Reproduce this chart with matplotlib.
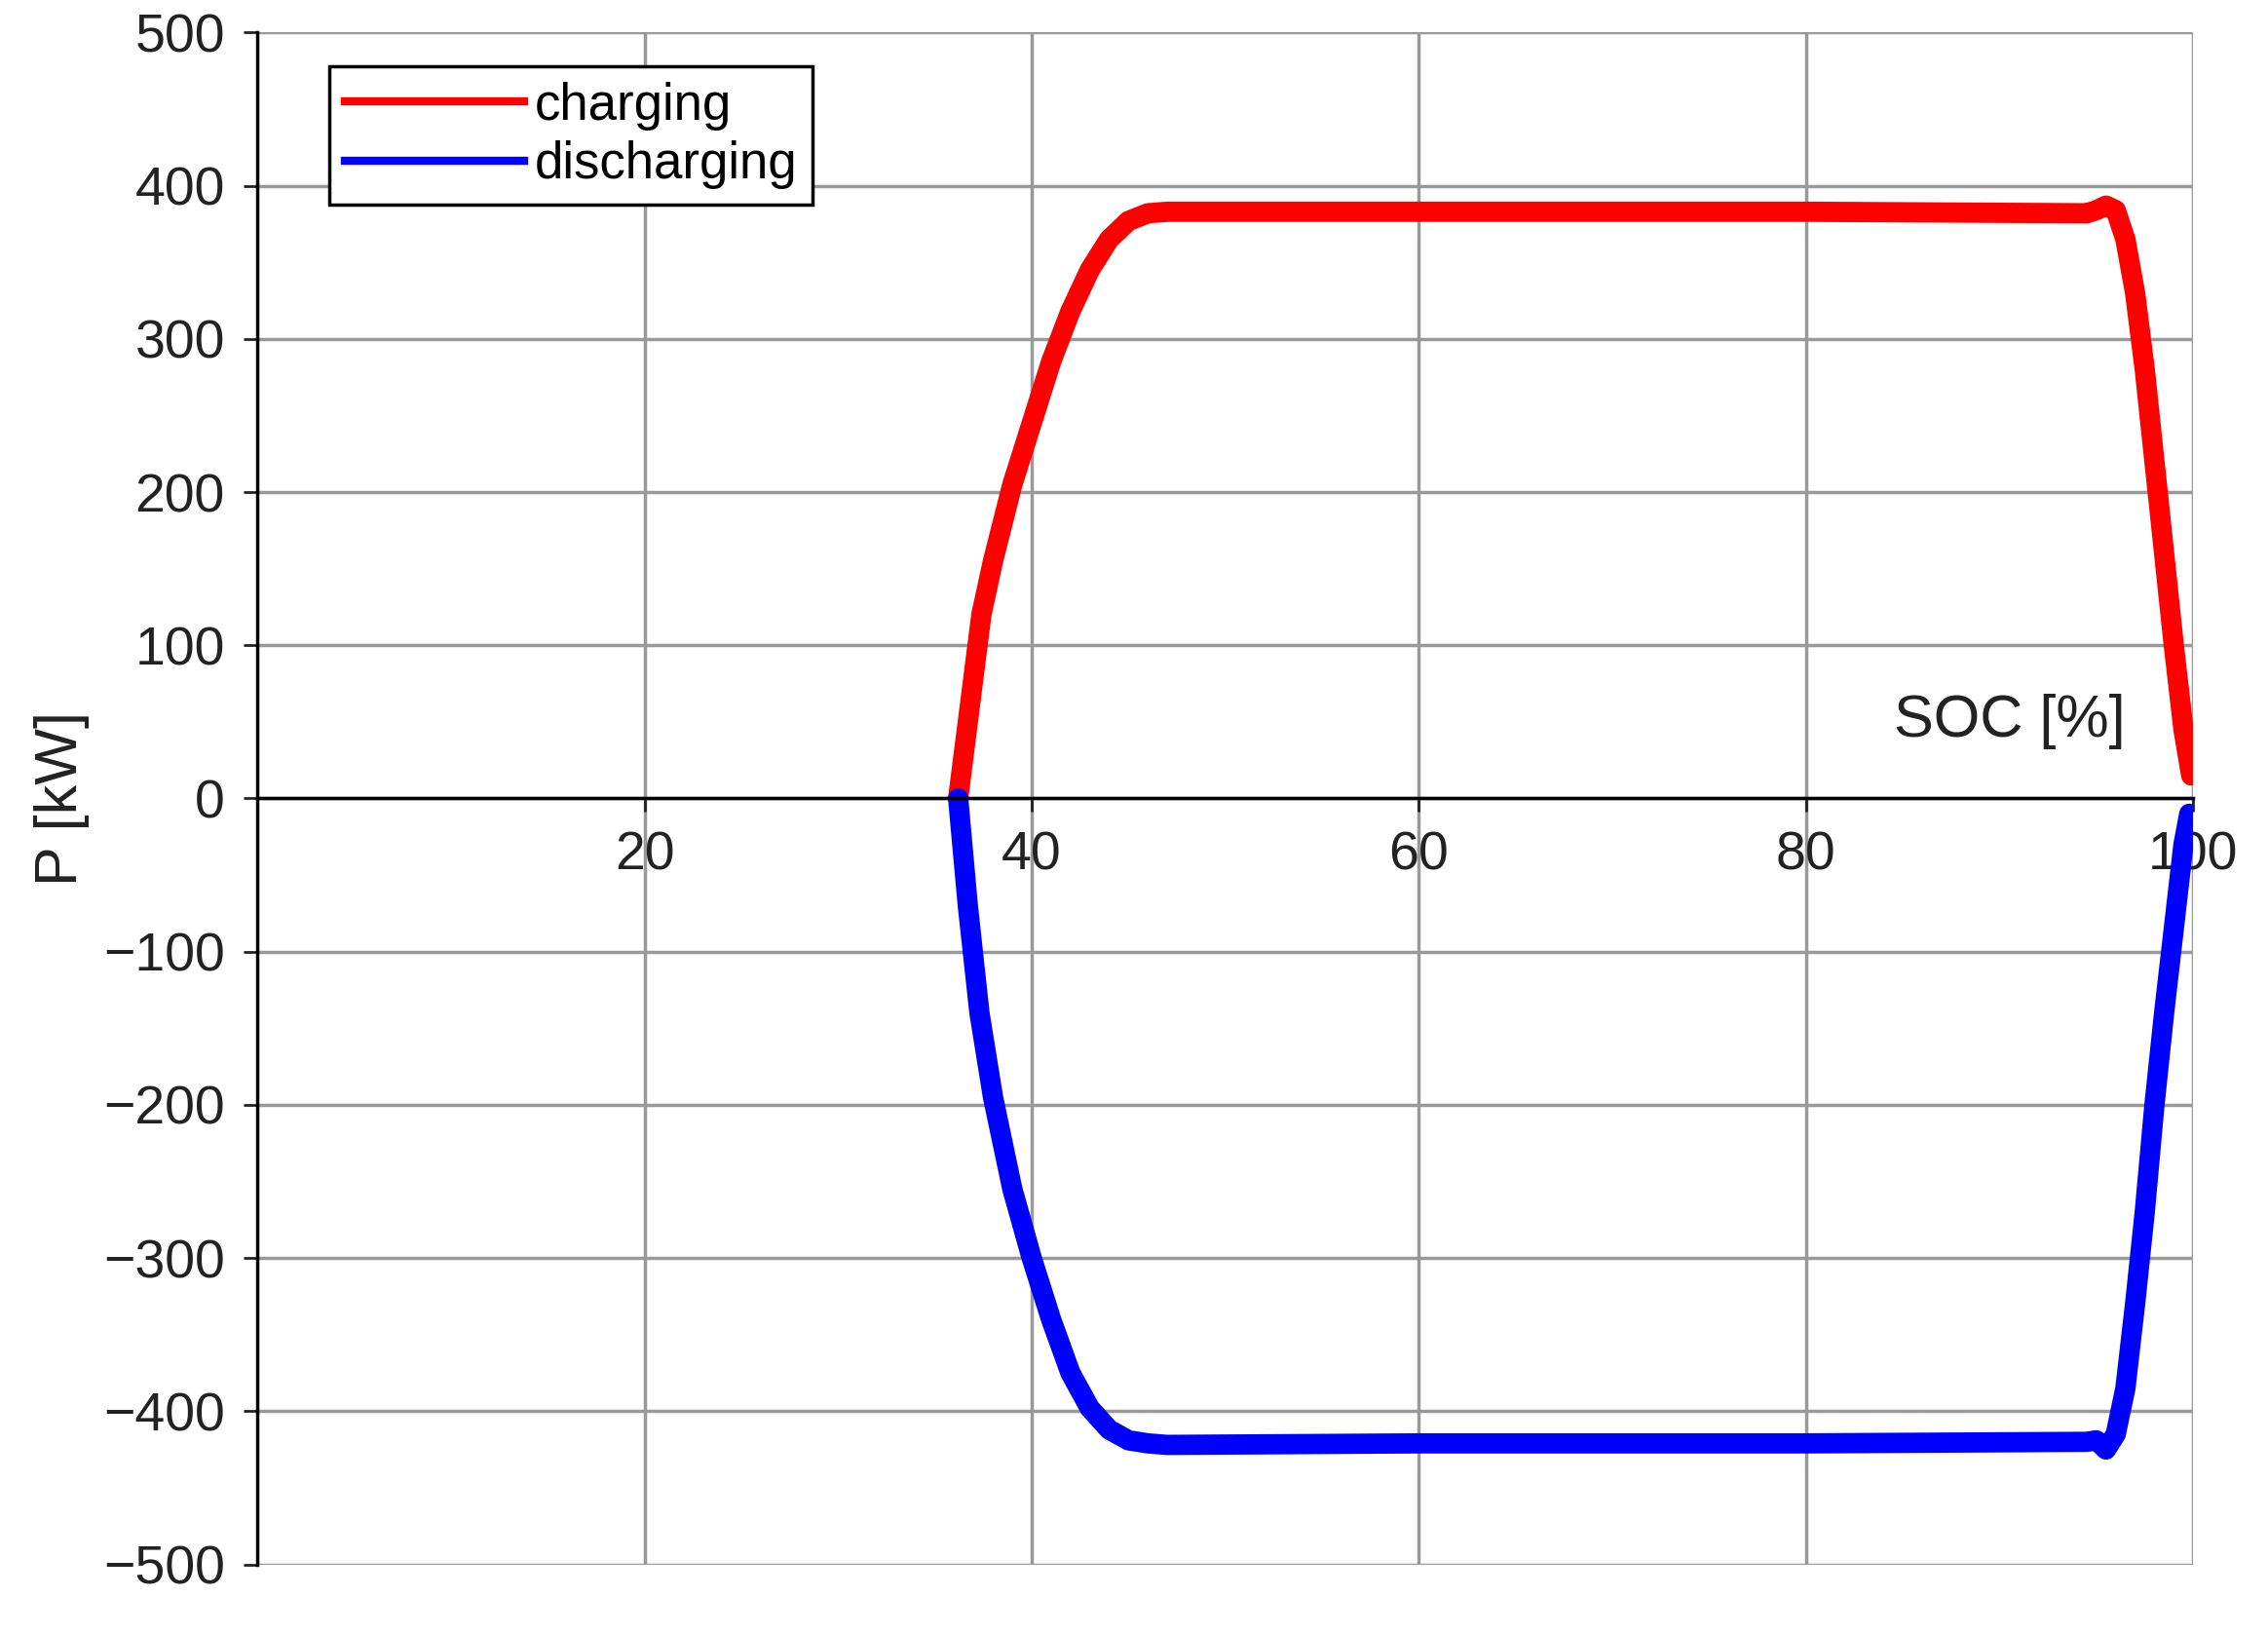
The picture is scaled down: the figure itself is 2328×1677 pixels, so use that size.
import matplotlib
matplotlib.use("Agg")
import matplotlib.pyplot as plt
from matplotlib.lines import Line2D

plt.rcParams['font.family'] = ['Liberation Sans', 'DejaVu Sans']

soc_ch = [36.2, 36.8, 37.4, 38.0, 39.0, 40.0, 41.0, 42.0, 43.0, 44.0, 45.0, 46.0, 47.0, 60.0, 80.0, 94.5, 95.0, 95.5, 96.0, 96.5, 97.0, 97.5, 98.0, 98.5, 99.0, 99.5, 99.9]
p_ch = [0, 60, 120, 155, 205, 245, 285, 318, 345, 365, 377, 382, 383, 383, 383, 382, 384, 387, 384, 365, 330, 280, 220, 160, 100, 45, 15]
soc_dis = [36.2, 36.7, 37.3, 38.0, 39.0, 40.0, 41.0, 42.0, 43.0, 44.0, 45.0, 46.0, 47.0, 60.0, 80.0, 94.5, 95.0, 95.5, 96.0, 96.5, 97.0, 97.5, 98.0, 98.5, 99.0, 99.5, 99.8]
p_dis = [0, -70, -140, -195, -255, -300, -340, -375, -398, -412, -419, -421, -422, -421, -421, -420, -419, -425, -415, -385, -330, -270, -200, -140, -85, -30, -10]

fig = plt.figure(figsize=(23.28, 16.77), dpi=100)
ax = fig.add_axes([0.1135, 0.0426, 0.8535, 0.9375])
ax.plot(soc_ch, p_ch, color="#ff0000", lw=15, solid_capstyle="round", solid_joinstyle="round")
ax.plot(soc_dis, p_dis, color="#0000ff", lw=15, solid_capstyle="round", solid_joinstyle="round")
ax.set_xlim(0, 100)
ax.set_ylim(-500, 500)
ax.spines["bottom"].set_position(("data", 0))
ax.spines["top"].set_visible(False)
ax.spines["right"].set_visible(False)
for s in ["left", "bottom"]:
    ax.spines[s].set_linewidth(2.5)
ax.set_xticks([20, 40, 60, 80, 100])
ax.set_yticks(range(-500, 501, 100))
ax.set_yticklabels(["\u2212%d" % -v if v < 0 else str(v) for v in range(-500, 501, 100)])
ax.tick_params(labelsize=40, width=2, length=10, pad=14, colors="#222222")
ax.grid(True, color="#999999", lw=2.5)
ax.set_axisbelow(True)
ax.text(96.5, 50, "SOC [%]", fontsize=44, ha="right", va="center", color="#222222")
ax.set_ylabel("P [kW]", fontsize=44, color="#222222", labelpad=10)
handles = [Line2D([], [], color="#ff0000", lw=6), Line2D([], [], color="#0000ff", lw=6)]
leg = ax.legend(handles, ["charging", "discharging"], loc="upper left", bbox_to_anchor=(0.037, 0.978),
                fontsize=38, fancybox=False, edgecolor="black", framealpha=1, handlelength=3.5,
                borderpad=0.3, labelspacing=0.2, handletextpad=0.2, borderaxespad=0)
leg.get_frame().set_linewidth(2.5)
fig.savefig("out.png", dpi=100)
